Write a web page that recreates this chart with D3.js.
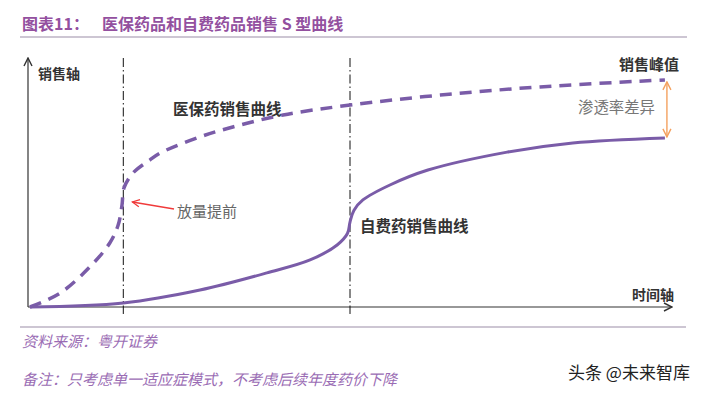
<!DOCTYPE html>
<html>
<head>
<meta charset="utf-8">
<script src="https://cdn.jsdelivr.net/npm/d3@7"></script>
<style>
	body { margin: 0; background: #fff; }
	text { font-family: "Noto Sans CJK SC", "Noto Sans", sans-serif; }
</style>
</head>
<body>
<svg class="chart"></svg>
<script>
// curve data (time units 0-100, sales units 0-100)
var insuredX = [0.3, 5.0, 9.6, 12.7, 14.0, 14.6, 14.9, 16.3, 18.9, 20.5, 26.7, 31.8, 39.6, 50.0, 64.0, 79.5, 98.9];
var insuredY = [0, 5.6, 16.1, 25.7, 32.9, 41.0, 47.8, 53.8, 59.0, 61.8, 68.3, 72.3, 77.1, 81.1, 85.1, 88.4, 91.2];
var selfPayX = [0.3, 14.8, 26.7, 37.1, 43.8, 48.0, 49.6, 50.0, 50.6, 52.0, 56.2, 62.1, 74.4, 84.6, 98.9];
var selfPayY = [0, 1.6, 6.8, 13.7, 18.9, 24.9, 29.5, 34.1, 38.8, 43.0, 49.0, 55.0, 62.2, 65.9, 67.9];
// moments marked by vertical lines
var markers = [14.8, 50.0];

var titleText = "图表11：";
var titleMain = "医保药品和自费药品销售 S 型曲线";
var sourceText = "资料来源：粤开证券";
var noteText = "备注：只考虑单一适应症模式，不考虑后续年度药价下降";

var purple = "#7a5ca8";

var svg = d3.select("svg.chart")
	.attr("width", 707)
	.attr("height", 395);

// arrow markers
var defs = svg.append("defs");
function arrowHead(id, color, size) {
	defs.append("marker")
		.attr("id", id)
		.attr("viewBox", "0 0 10 10")
		.attr("refX", 9).attr("refY", 5)
		.attr("markerWidth", size).attr("markerHeight", size)
		.attr("markerUnits", "userSpaceOnUse")
		.attr("orient", "auto-start-reverse")
		.append("path")
		.attr("d", "M1,1 L9,5 L1,9")
		.attr("fill", "none")
		.attr("stroke", color)
		.attr("stroke-width", 1.4);
}
arrowHead("open", "#333", 10);
arrowHead("redhead", "#f03a3a", 9);
arrowHead("orangehead", "#f4a15f", 10);

// title and rules
var title = svg.append("text")
	.attr("x", 22).attr("y", 30)
	.attr("fill", "#93509f")
	.attr("font-size", 16)
	.attr("font-weight", "bold");
title.append("tspan").text(titleText);
title.append("tspan").attr("x", 102).text(titleMain);

svg.append("line")
	.attr("x1", 20).attr("x2", 687)
	.attr("y1", 37).attr("y2", 37)
	.attr("stroke", "#cdc6d3").attr("stroke-width", 2);
svg.append("line")
	.attr("x1", 20).attr("x2", 686)
	.attr("y1", 327).attr("y2", 327)
	.attr("stroke", "#cdc6d3").attr("stroke-width", 2);

// scales
var x = d3.scaleLinear().domain([0, 100]).range([28, 672]);
var y = d3.scaleLinear().domain([0, 100]).range([307, 58]);

// axes with arrows
svg.append("line")
	.attr("x1", x(0)).attr("y1", y(0))
	.attr("x2", x(0)).attr("y2", y(100))
	.attr("stroke", "#333").attr("stroke-width", 1.2)
	.attr("marker-end", "url(#open)");
svg.append("line")
	.attr("x1", x(0)).attr("y1", y(0))
	.attr("x2", x(100)).attr("y2", y(0))
	.attr("stroke", "#333").attr("stroke-width", 1.2)
	.attr("marker-end", "url(#open)");

// vertical dash-dot markers
svg.selectAll("line.marker")
	.data(markers)
	.enter()
	.append("line")
	.attr("class", "marker")
	.attr("x1", function(d) { return x(d); })
	.attr("x2", function(d) { return x(d); })
	.attr("y1", y(100))
	.attr("y2", y(-2.8))
	.attr("stroke", "#111")
	.attr("stroke-width", 1)
	.attr("stroke-dasharray", "9,3,1.5,3");

// curves
var line = d3.line()
	.x(function(d) { return x(d[0]); })
	.y(function(d) { return y(d[1]); })
	.curve(d3.curveCatmullRom.alpha(0.5));

var insured = d3.zip(insuredX, insuredY);
var selfPay = d3.zip(selfPayX, selfPayY);

svg.append("path")
	.datum(insured)
	.attr("d", line)
	.attr("fill", "none")
	.attr("stroke", purple)
	.attr("stroke-width", 3.5)
	.attr("stroke-dasharray", "12,8");

svg.append("path")
	.datum(selfPay)
	.attr("d", line)
	.attr("fill", "none")
	.attr("stroke", purple)
	.attr("stroke-width", 3);

// penetration gap arrow
var last = insured.length - 1;
var lastS = selfPay.length - 1;
svg.append("line")
	.attr("x1", x(insuredX[last]) + 2).attr("y1", y(insuredY[last]) + 2)
	.attr("x2", x(insuredX[last]) + 2).attr("y2", y(selfPayY[lastS]) - 1)
	.attr("stroke", "#f4a15f").attr("stroke-width", 1.4)
	.attr("marker-start", "url(#orangehead)")
	.attr("marker-end", "url(#orangehead)");

// red arrow "earlier ramp"
svg.append("line")
	.attr("x1", 174).attr("y1", 209)
	.attr("x2", x(markers[0]) + 9).attr("y2", 202)
	.attr("stroke", "#f03a3a").attr("stroke-width", 1.3)
	.attr("marker-end", "url(#redhead)");

// labels
function label(tx, ty, str, size, color, weight) {
	svg.append("text")
		.attr("x", tx).attr("y", ty)
		.attr("font-size", size)
		.attr("fill", color)
		.attr("font-weight", weight)
		.text(str);
}
label(38, 79, "销售轴", 14, "#333", "bold");
label(632, 300, "时间轴", 14, "#333", "bold");
label(619, 70, "销售峰值", 15, "#333", "bold");
label(173, 115, "医保药销售曲线", 15.5, "#333", "bold");
label(360, 232, "自费药销售曲线", 15.5, "#333", "bold");
label(177, 217, "放量提前", 15, "#666", "normal");
label(578, 113, "渗透率差异", 15.4, "#777", "normal");

// footnotes
svg.append("text")
	.attr("x", 22).attr("y", 347)
	.attr("font-size", 15)
	.attr("font-style", "italic")
	.attr("fill", "#9a6cb4")
	.text(sourceText);
svg.append("text")
	.attr("x", 22).attr("y", 385)
	.attr("font-size", 15)
	.attr("font-style", "italic")
	.attr("fill", "#9a6cb4")
	.text(noteText);

// watermark
svg.append("text")
	.attr("x", 568).attr("y", 379)
	.attr("font-size", 17)
	.attr("fill", "#222")
	.text("头条 @未来智库");
</script>
</body>
</html>
